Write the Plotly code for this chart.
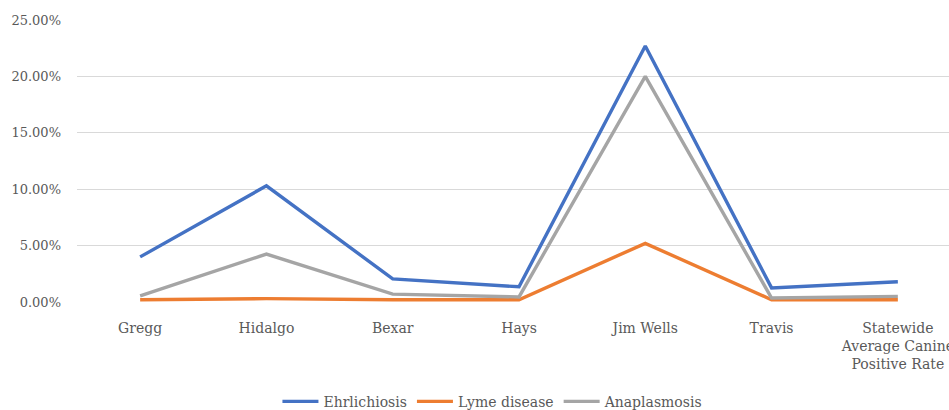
import plotly.graph_objects as go

counties = ["Gregg", "Hidalgo", "Bexar", "Hays", "Jim Wells", "Travis",
            "Statewide<br>Average Canine<br>Positive Rate"]
ehrlichiosis = [4.0, 10.3, 2.05, 1.35, 22.7, 1.25, 1.8]
lyme_disease = [0.2, 0.3, 0.2, 0.2, 5.2, 0.2, 0.2]
anaplasmosis = [0.55, 4.25, 0.7, 0.45, 20.0, 0.35, 0.5]

series = [
    ("Ehrlichiosis", ehrlichiosis, "#4472C4"),
    ("Lyme disease", lyme_disease, "#ED7D31"),
    ("Anaplasmosis", anaplasmosis, "#A5A5A5"),
]

fig = go.Figure()
for name, vals, color in series:
    fig.add_trace(go.Scatter(
        x=list(range(len(counties))), y=[v / 100 for v in vals],
        mode="lines", name=name,
        line=dict(color=color, width=3.4),
    ))

font_family = "DejaVu Serif"
text_color = "#595959"

fig.update_layout(
    width=949, height=410,
    margin=dict(l=77, r=0, t=20, b=108, autoexpand=False),
    paper_bgcolor="white", plot_bgcolor="white",
    font=dict(family=font_family, size=14, color=text_color),
    showlegend=True,
    legend=dict(orientation="h", x=0.477, xanchor="center",
                yref="container", y=0.02, yanchor="middle",
                font=dict(family=font_family, size=14, color=text_color),
                itemwidth=36),
    xaxis=dict(
        tickmode="array", tickvals=list(range(len(counties))), ticktext=counties,
        range=[-0.5, 6.405], showgrid=False, zeroline=False, showline=False,
        ticks="", ticklabelstandoff=16, ticklabeloverflow="allow",
        tickfont=dict(size=14),
    ),
    yaxis=dict(
        range=[0, 0.25], tickvals=[0, 0.05, 0.10, 0.15, 0.20, 0.25],
        tickformat=".2%", showgrid=True, gridcolor="#D9D9D9", gridwidth=1,
        zeroline=False, showline=False, ticks="", ticklabelstandoff=15,
        tickfont=dict(size=13),
    ),
)

fig.write_html("out.html")
